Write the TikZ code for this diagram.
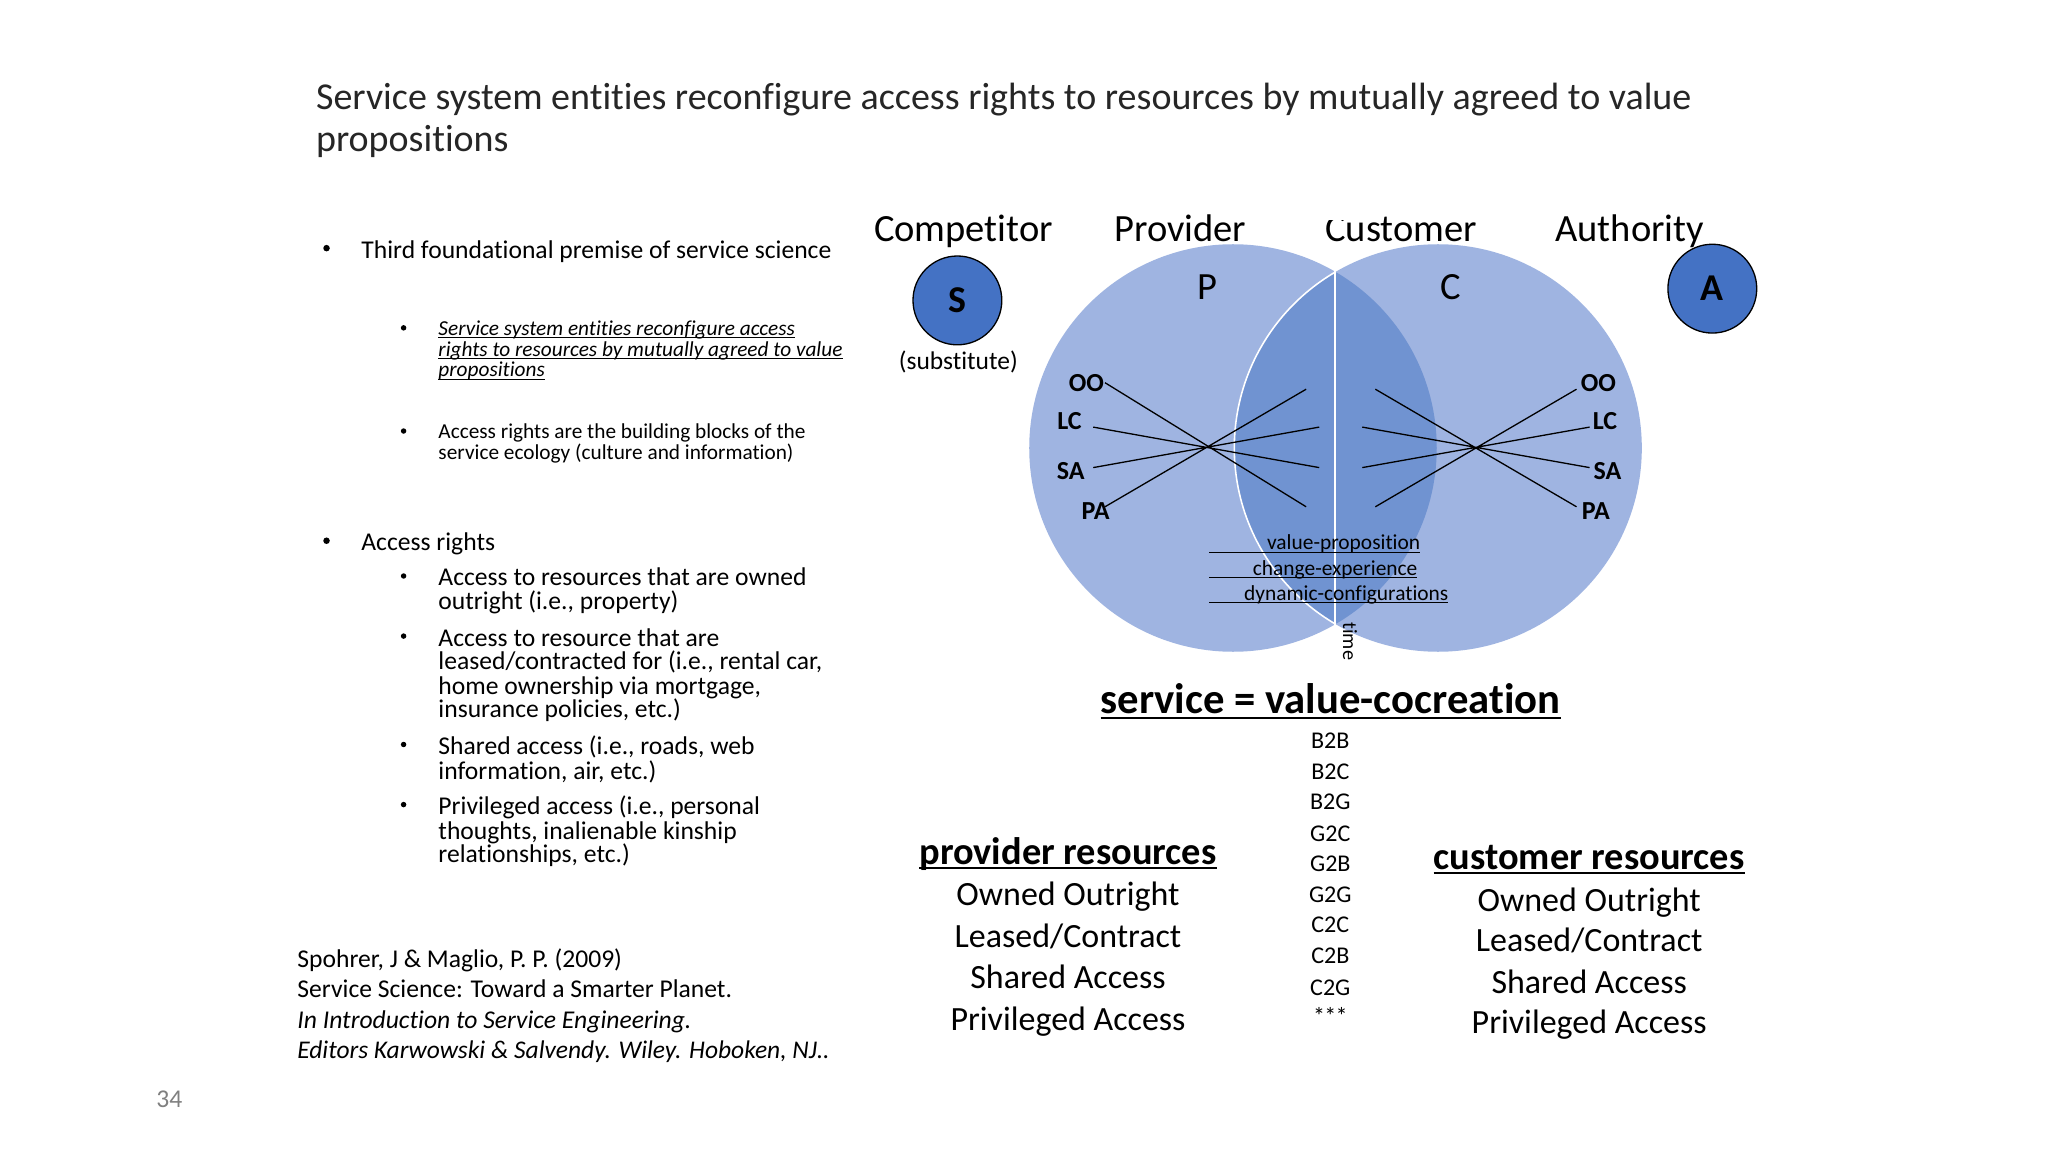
\documentclass[tikz,border=0pt]{standalone}
\usepackage{fontspec}
\setmainfont{Carlito}[Ligatures=CommonOff]
\usetikzlibrary{calc}
\definecolor{lightblue}{HTML}{9FB4E1}
\definecolor{midblue}{HTML}{7093D1}
\definecolor{solidblue}{HTML}{4472C4}
\definecolor{titlegray}{HTML}{262626}
\newcommand{\fsz}[1]{\fontsize{#1}{#1}\selectfont}
\newcommand{\ulin}[1]{\setbox0\hbox{#1}\rlap{\copy0}\rule[-0.13em]{\wd0}{0.055em}}
\tikzset{
 x=1pt,y=-1pt,
 txt/.style={inner sep=0pt,outer sep=0pt,anchor=base west,text=black,xshift=0.7pt,yshift=-0.6pt},
 ctr/.style={inner sep=0pt,outer sep=0pt,anchor=base,text=black,xshift=0.7pt,yshift=-0.6pt},
 title/.style={txt,font=\fsz{29.1},text=titlegray,xshift=-0.7pt,yshift=0.6pt},
 big/.style={txt,font=\fsz{19.6}},
 small/.style={txt,font=\fsz{16.3}},
 bul/.style={inner sep=0pt,circle,fill=black,minimum size=5pt},
 subbul/.style={bul,minimum size=4.2pt},
 head/.style={ctr,font=\fsz{29.5}},
 res/.style={ctr,font=\fsz{26}},
 reshead/.style={ctr,font=\fsz{29.4}\bfseries},
 code/.style={inner sep=0pt,anchor=center,font=\fsz{18.4},xshift=0.5pt},
 lab/.style={inner sep=0pt,anchor=center,font=\fsz{19.9}\bfseries,xshift=0.8pt},
 vp/.style={ctr,font=\fsz{16.4}},
 spoke/.style={draw=black,line width=1pt},
 token/.style={circle,draw=black,line width=1pt,fill=solidblue,minimum size=68pt,inner sep=0pt,font=\fsz{29}\bfseries},
}
\begin{document}
\begin{tikzpicture}
\useasboundingbox (0,0) rectangle (1568,882);
\fill[white] (0,0) rectangle (1568,882);
% title
\node[title] (t1) at (242,84) {Service system entities reconfigure access rights to resources by mutually agreed to value};
\node[title] (t2) at (242,116) {propositions};
% left text
\node[bul] (b1) at (250,190) {};
\node[big] (l1) at (276,197) {Third foundational premise of service science};
\node[subbul] (b2) at (309,251) {};
\node[small] (l2) at (335,256) {\itshape\ulin{Service system entities reconfigure access}};
\node[small] (l3) at (335,272) {\itshape\ulin{rights to resources by mutually agreed to value}};
\node[small] (l4) at (335,288) {\itshape\ulin{propositions}};
\node[subbul] (b3) at (309,330) {};
\node[small] (l5) at (335,335) {Access rights are the building blocks of the};
\node[small] (l6) at (335,351) {service ecology (culture and information)};
\node[bul] (b4) at (250,414) {};
\node[big] (l7) at (276,421) {Access rights};
\node[subbul] (b5) at (309,441) {};
\node[big] (a1) at (335,448) {Access to resources that are owned};
\node[big] (a2) at (335,466) {outright (i.e., property)};
\node[subbul] (b6) at (309,487) {};
\node[big] (a3) at (335,494) {Access to resource that are};
\node[big] (a4) at (335,512) {leased/contracted for (i.e., rental car,};
\node[big] (a5) at (335,531) {home ownership via mortgage,};
\node[big] (a6) at (335,549) {insurance policies, etc.)};
\node[subbul] (b7) at (309,570) {};
\node[big] (a7) at (335,577) {Shared access (i.e., roads, web};
\node[big] (a8) at (335,596) {information, air, etc.)};
\node[subbul] (b8) at (309,616) {};
\node[big] (a9) at (335,623) {Privileged access (i.e., personal};
\node[big] (a10) at (335,642) {thoughts, inalienable kinship};
\node[big] (a11) at (335,660) {relationships, etc.)};
\node[big] (r1) at (227,740) {Spohrer, J \& Maglio, P. P. (2009)};
\node[big] (r2) at (227,763) {Service Science: Toward a Smarter Planet.};
\node[big] (r3) at (227,787) {\itshape In Introduction to Service Engineering.};
\node[big,font=\fsz{19.5}] (r4) at (227,810) {\itshape Editors Karwowski \& Salvendy. Wiley. Hoboken, NJ..};
\node[big,text=black!50] (pg) at (119,847) {34};
% venn
\fill[lightblue] (944,343) circle (156);
\fill[lightblue] (1101,343) circle (156);
\begin{scope}
\clip (944,343) circle (156);
\fill[midblue] (1101,343) circle (156);
\draw[white,line width=1.2pt] (1101,343) circle (156);
\end{scope}
\draw[white,line width=1.2pt] (1022,207) -- (1022,481);
% heads
\node[head] (h1) at (737,184) {Competitor};
\node[head] (h2) at (903,184) {Provider};
\node[head] (h3) at (1072,184) {Customer};
\fill[white] (1012,162) rectangle (1032,168.5);
\node[head] (h4) at (1247,184) {Authority};
\node[token] (S) at (733,230) {S};
\node[token] (A) at (1311,221) {A};
\node[ctr,font=\fsz{19.5}] (sub) at (733,282) {(substitute)};
\node[head] (P) at (924,229) {P};
\node[head] (C) at (1110,229) {C};
% spokes
\coordinate (pc) at (925,343);
\coordinate (cc) at (1130,343);
\foreach \n/\x/\y in {p1/846/293,p2/837/327,p3/837/358,p4/846/388,p5/1000/298,p6/1010/327,p7/1010/358,p8/1000/388,
 c1/1053/298,c2/1043/327,c3/1043/358,c4/1053/388,c5/1207/298,c6/1217/327,c7/1217/358,c8/1207/388}
  \coordinate (\n) at (\x,\y);
\draw[spoke] (p1)--(p8) (p2)--(p7) (p3)--(p6) (p4)--(p5);
\draw[spoke] (c1)--(c8) (c2)--(c7) (c3)--(c6) (c4)--(c5);
\foreach \n/\t/\x/\y in {lo/OO/831/293,ll/LC/818/322,ls/SA/819/361,lp/PA/838/391,ro/OO/1223/293,rl/LC/1228/322,rs/SA/1230/361,rp/PA/1221/391}
  \node[lab] (\n) at (\x,\y) {\t};
% value labels
\node[vp] (v1) at (1028,420) {value-proposition};
\node[vp] (v2) at (1021.5,440) {change-experience};
\node[vp] (v3) at (1030,459) {dynamic-configurations};
\coordinate (u1) at (926,423); \coordinate (u2) at (926,442); \coordinate (u3) at (926,461);
\draw[black,line width=0.9pt] (u1) -- (v1.east |- u1);
\draw[black,line width=0.9pt] (u2) -- (v2.east |- u2);
\draw[black,line width=0.9pt] (u3) -- (v3.east |- u3);
\node[inner sep=0pt,rotate=-90,font=\fsz{15.5}] (time) at (1033.5,491) {time};
% bottom
\node[ctr,font=\fsz{32.7}\bfseries] (svc) at (1018,546) {\ulin{service = value-cocreation}};
\foreach \n/\t/\y in {k1/B2B/567,k2/B2C/591,k3/B2G/614,k4/G2C/638,k5/G2B/661,k6/G2G/685,k7/C2C/708,k8/C2B/732,k9/C2G/756}
  \node[code] (\n) at (1018,\y) {\t};
\node[code] (k10) at (1018,778) {*\kern-0.6pt*\kern-0.6pt*};
\node[reshead] (pr) at (817,661) {\ulin{provider resources}};
\node[res] (p1t) at (817,693) {Owned Outright};
\node[res] (p2t) at (817,725) {Leased/Contract};
\node[res] (p3t) at (817,756) {Shared Access};
\node[res] (p4t) at (817,788) {Privileged Access};
\node[reshead] (cr) at (1216,665) {\ulin{customer resources}};
\node[res] (c1t) at (1216,697) {Owned Outright};
\node[res] (c2t) at (1216,728) {Leased/Contract};
\node[res] (c3t) at (1216,760) {Shared Access};
\node[res] (c4t) at (1216,791) {Privileged Access};
\end{tikzpicture}
\end{document}
